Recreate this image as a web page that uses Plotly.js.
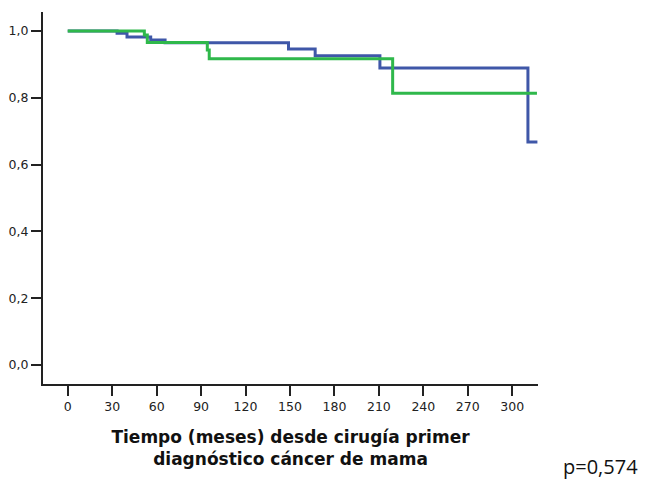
<!DOCTYPE html>
<html><head><meta charset="utf-8">
<script src="https://cdn.plot.ly/plotly-3.0.1.min.js"></script>
<style>body{margin:0;background:#fff}#c{width:647px;height:481px}</style>
</head><body><div id="c"></div>
<script>
// Kaplan-Meier step data (time in months, cumulative survival)
const blueTime = [0, 33.3, 40, 56, 65.7, 149, 167, 210.7, 310.6, 317];
const blueSurv = [1.0, 0.993, 0.982, 0.973, 0.965, 0.946, 0.926, 0.889, 0.668, 0.668];
const greenTime = [0, 51.7, 53.7, 94.2, 95.5, 219.3, 316.7];
const greenSurv = [1.0, 0.988, 0.966, 0.943, 0.917, 0.814, 0.814];
const xTicks = [0, 30, 60, 90, 120, 150, 180, 210, 240, 270, 300];
const yTicks = [0.0, 0.2, 0.4, 0.6, 0.8, 1.0];
const xTitle = "<b>Tiempo (meses) desde cirugía primer<br>diagnóstico cáncer de mama</b>";
const pText = "p=0,574";

const traces = [
  {x: blueTime, y: blueSurv, type: 'scatter', mode: 'lines', line: {shape: 'hv', color: '#3F57A8', width: 3}, hoverinfo: 'skip'},
  {x: greenTime, y: greenSurv, type: 'scatter', mode: 'lines', line: {shape: 'hv', color: '#2FB84B', width: 3}, hoverinfo: 'skip'}
];
const layout = {
  width: 647, height: 481,
  margin: {l: 43, r: 109, t: 12, b: 97},
  paper_bgcolor: '#fff', plot_bgcolor: '#fff',
  showlegend: false,
  separators: ',.',
  font: {family: 'DejaVu Sans, sans-serif', color: '#222'},
  xaxis: {
    range: [-16.7, 317.4], tickvals: xTicks, ticks: 'outside', ticklen: 10, tickwidth: 2, tickcolor: '#222',
    showline: true, linecolor: '#222', linewidth: 2, showgrid: false, zeroline: false,
    tickfont: {size: 12.5, color: '#222', family: 'DejaVu Sans, sans-serif'},
    title: {text: xTitle, font: {size: 17, color: '#111', family: 'DejaVu Sans, sans-serif'}, standoff: 18}
  },
  yaxis: {
    range: [-0.057, 1.057], tickvals: yTicks, tickformat: '.1f', ticks: 'outside', ticklen: 10, tickwidth: 2, tickcolor: '#222',
    showline: true, linecolor: '#222', linewidth: 2, showgrid: false, zeroline: false,
    tickfont: {size: 12.5, color: '#222', family: 'DejaVu Sans, sans-serif'}
  },
  annotations: [{
    text: pText, xref: 'paper', yref: 'paper', x: 1.206, y: -0.223, xanchor: 'right', yanchor: 'middle',
    showarrow: false, font: {family: 'Open Sans, sans-serif', size: 20, color: '#111'}
  }]
};
Plotly.newPlot('c', traces, layout, {displayModeBar: false, staticPlot: true});
</script></body></html>
